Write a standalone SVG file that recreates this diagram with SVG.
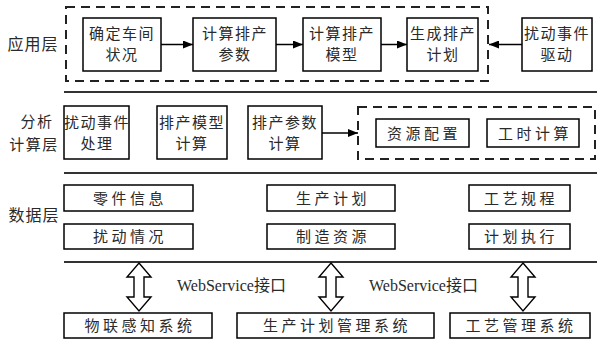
<svg xmlns="http://www.w3.org/2000/svg" width="597" height="339" viewBox="0 0 597 339">
  <defs>
    <marker id="ah" viewBox="0 0 10 8" refX="10" refY="4" markerWidth="10" markerHeight="8" markerUnits="userSpaceOnUse" orient="auto">
      <path d="M0,0 L10,4 L0,8 Z" fill="#000"/>
    </marker>
  </defs>
  <style>
    .box { fill: #fff; stroke: #000; stroke-width: 1.5; }
    .dash { fill: none; stroke: #222; stroke-width: 2; stroke-dasharray: 9 6; }
    .sep { stroke: #333; stroke-width: 2.2; }
    .t { font-family: "Noto Sans CJK SC", "Noto Sans CJK JP", sans-serif; font-size: 15px; fill: #2a2a2a; text-anchor: middle; letter-spacing: 1.5px; }
    .td { font-family: "Noto Sans CJK SC", "Noto Sans CJK JP", sans-serif; font-size: 15px; fill: #2a2a2a; text-anchor: middle; letter-spacing: 3.5px; }
    .lab { font-family: "Noto Sans CJK SC", "Noto Sans CJK JP", sans-serif; font-size: 16px; fill: #2a2a2a; text-anchor: middle; letter-spacing: 1px; }
    .lab2 { font-family: "Noto Sans CJK SC", "Noto Sans CJK JP", sans-serif; font-size: 15px; fill: #2a2a2a; text-anchor: middle; letter-spacing: 1.5px; }
    .ws { font-family: "Liberation Serif", "Noto Sans CJK SC", serif; font-size: 16px; fill: #2a2a2a; }
    .arr { stroke: #000; stroke-width: 1.5; fill: none; marker-end: url(#ah); }
    .dbl { fill: #fff; stroke: #000; stroke-width: 1.4; }
  </style>

  <!-- layer labels -->
  <text class="lab" x="33" y="50">应用层</text>
  <text class="lab2" x="37" y="127">分析</text>
  <text class="lab2" x="34" y="150">计算层</text>
  <text class="lab" x="34" y="221">数据层</text>

  <!-- layer separators -->
  <line class="sep" x1="64" y1="92" x2="597" y2="92"/>
  <line class="sep" x1="64" y1="173" x2="597" y2="173"/>
  <line class="sep" x1="64" y1="262" x2="597" y2="262"/>

  <!-- application layer -->
  <rect class="dash" x="66" y="7" width="422" height="74"/>
  <g id="n_state">
    <rect class="box" x="83" y="18" width="78" height="53"/>
    <text class="t" x="122" y="39">确定车间</text>
    <text class="t" x="122" y="60">状况</text>
  </g>
  <g id="n_param">
    <rect class="box" x="193" y="18" width="83" height="53"/>
    <text class="t" x="235" y="39">计算排产</text>
    <text class="t" x="235" y="60">参数</text>
  </g>
  <g id="n_model">
    <rect class="box" x="303" y="18" width="78" height="53"/>
    <text class="t" x="342" y="39">计算排产</text>
    <text class="t" x="342" y="60">模型</text>
  </g>
  <g id="n_plan">
    <rect class="box" x="407" y="18" width="71" height="53"/>
    <text class="t" x="443" y="39">生成排产</text>
    <text class="t" x="443" y="60">计划</text>
  </g>
  <g id="n_drive">
    <rect class="box" x="522" y="18" width="70" height="53"/>
    <text class="t" x="557" y="39">扰动事件</text>
    <text class="t" x="557" y="60">驱动</text>
  </g>

  <!-- analysis layer -->
  <g id="n_event">
    <rect class="box" x="64" y="106" width="65" height="53"/>
    <text class="t" x="97" y="128">扰动事件</text>
    <text class="t" x="97" y="149">处理</text>
  </g>
  <g id="n_modelcalc">
    <rect class="box" x="157" y="106" width="70" height="53"/>
    <text class="t" x="192" y="128">排产模型</text>
    <text class="t" x="192" y="149">计算</text>
  </g>
  <g id="n_paramcalc">
    <rect class="box" x="248" y="106" width="74" height="53"/>
    <text class="t" x="285" y="128">排产参数</text>
    <text class="t" x="285" y="149">计算</text>
  </g>
  <rect class="dash" x="358" y="107" width="237" height="52"/>
  <g id="n_resource">
    <rect class="box" x="376" y="119" width="93" height="28"/>
    <text class="td" x="424" y="139">资源配置</text>
  </g>
  <g id="n_hours">
    <rect class="box" x="487" y="119" width="92" height="28"/>
    <text class="td" x="535" y="139">工时计算</text>
  </g>

  <!-- data layer -->
  <g id="n_parts">
    <rect class="box" x="64" y="185" width="129" height="26"/>
    <text class="td" x="130" y="204">零件信息</text>
  </g>
  <g id="n_disturb">
    <rect class="box" x="64" y="224" width="129" height="25"/>
    <text class="td" x="130" y="242">扰动情况</text>
  </g>
  <g id="n_prodplan">
    <rect class="box" x="267" y="185" width="128" height="26"/>
    <text class="td" x="333" y="204">生产计划</text>
  </g>
  <g id="n_mfgres">
    <rect class="box" x="267" y="224" width="128" height="25"/>
    <text class="td" x="333" y="242">制造资源</text>
  </g>
  <g id="n_route">
    <rect class="box" x="469" y="185" width="101" height="26"/>
    <text class="td" x="521" y="204">工艺规程</text>
  </g>
  <g id="n_exec">
    <rect class="box" x="469" y="224" width="101" height="25"/>
    <text class="td" x="521" y="242">计划执行</text>
  </g>

  <!-- external systems -->
  <g id="n_iot">
    <rect class="box" x="64" y="313" width="148" height="25"/>
    <text class="td" x="140" y="331">物联感知系统</text>
  </g>
  <g id="n_pms">
    <rect class="box" x="237" y="313" width="197" height="25"/>
    <text class="td" x="337" y="331">生产计划管理系统</text>
  </g>
  <g id="n_tms">
    <rect class="box" x="450" y="313" width="140" height="25"/>
    <text class="td" x="521" y="331">工艺管理系统</text>
  </g>

  <text class="ws" x="177" y="291">WebService接口</text>
  <text class="ws" x="369" y="291">WebService接口</text>

  <!-- connectors -->
  <g id="connectors">
    <line class="arr" x1="161" y1="44.5" x2="193" y2="44.5"/>
    <line class="arr" x1="276" y1="44.5" x2="303" y2="44.5"/>
    <line class="arr" x1="381" y1="44.5" x2="407" y2="44.5"/>
    <line class="arr" x1="522" y1="44.5" x2="489" y2="44.5"/>
    <line class="arr" x1="322" y1="133" x2="358" y2="133"/>
    <path class="dbl" d="M139,263 L151,277 L144,277 L144,297 L151,297 L139,311 L127,297 L134,297 L134,277 L127,277 Z"/>
    <path class="dbl" d="M331,263 L343,277 L336,277 L336,297 L343,297 L331,311 L319,297 L326,297 L326,277 L319,277 Z"/>
    <path class="dbl" d="M523,263 L535,277 L528,277 L528,297 L535,297 L523,311 L511,297 L518,297 L518,277 L511,277 Z"/>
  </g>
</svg>
